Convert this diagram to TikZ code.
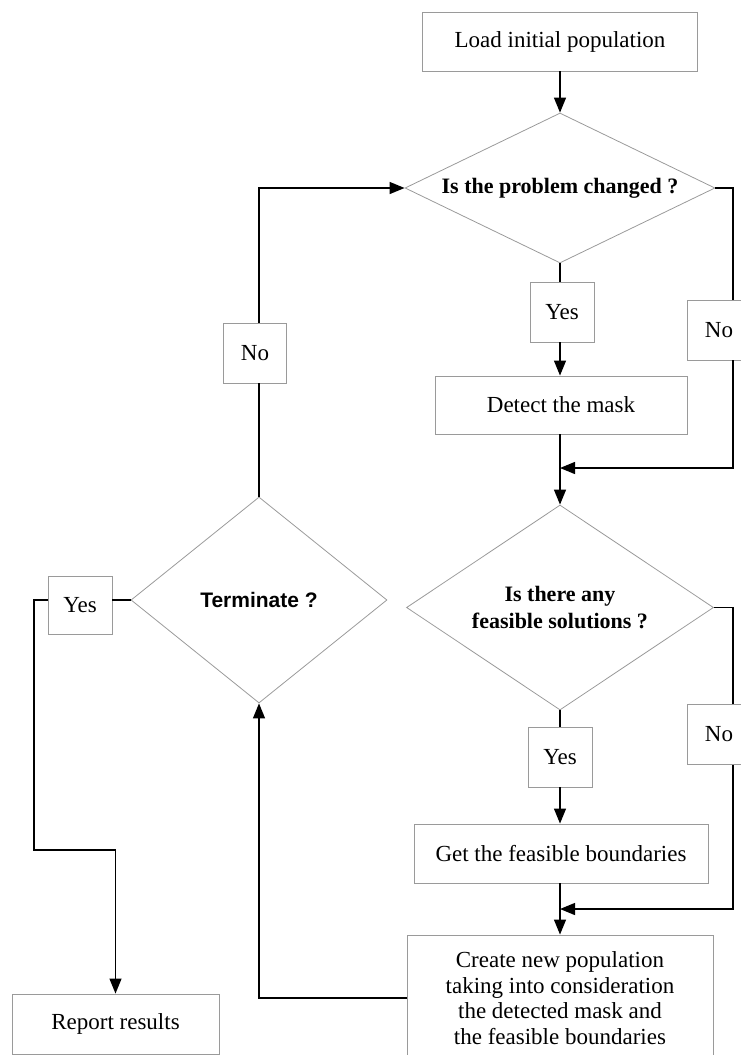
\documentclass[tikz,border=0pt]{standalone}
\usepackage{fontspec}
\setmainfont{Liberation Serif}
\newfontfamily\arialfont{Liberation Sans}
\usetikzlibrary{shapes.geometric,arrows.meta,calc}
\definecolor{boxgray}{HTML}{9A9A9A}
\begin{document}
\begin{tikzpicture}[x=1pt,y=-1pt,
  box/.style={draw=boxgray, line width=0.9pt, rectangle, inner sep=0pt, align=center,
    font=\fontsize{23}{25.5}\selectfont},
  dia/.style={draw=boxgray, line width=0.8pt, diamond, aspect=2, inner sep=0pt, align=center,
    font=\fontsize{22}{27}\selectfont\bfseries},
  conn/.style={line width=1.3pt, black},
  arr/.style={conn, -{Triangle[length=15pt,width=12pt]}}]
\useasboundingbox (0,0) rectangle (741,1055);

% nodes
\node[box, minimum width=275pt, minimum height=59pt] (load) at (560,41.5) {Load initial population};
\node[dia, minimum width=310pt, minimum height=150pt] (d1) at (560,188) {Is the problem changed ?};
\node[box, minimum width=64pt, minimum height=60pt] (yes1) at (562,312) {Yes};
\node[box, minimum width=64pt, minimum height=60pt] (no1) at (719,330) {No};
\node[box, minimum width=252pt, minimum height=58pt] (mask) at (561,405) {Detect the mask};
\node[dia, minimum width=307pt, minimum height=205pt] (d2) at (560,607.5) {Is there any\\feasible solutions ?};
\node[box, minimum width=64pt, minimum height=60pt] (yes2) at (560,757) {Yes};
\node[box, minimum width=64pt, minimum height=60pt] (no2) at (719,734.5) {No};
\node[box, minimum width=294pt, minimum height=59pt] (feas) at (561,853.5) {Get the feasible boundaries};
\node[box, minimum width=306pt, minimum height=126pt] (create) at (560,998)
  {Create new population\\taking into consideration\\the detected mask and\\the feasible boundaries};
\node[dia, minimum width=256pt, minimum height=206pt, font=\fontsize{21}{25}\selectfont\arialfont\bfseries] (term) at (259,600) {Terminate ?};
\node[box, minimum width=64pt, minimum height=58pt] (yesT) at (80,605) {Yes};
\node[box, minimum width=63pt, minimum height=60pt] (noL) at (255,353) {No};
\node[box, minimum width=207pt, minimum height=60pt] (report) at (115.5,1024) {Report results};

% helper coordinates
\coordinate (rr) at (733,0);
\coordinate (j1) at (560,468);
\coordinate (j2) at (560,909);
\coordinate (yl) at (34,850);

% connectors
\draw[arr] (load.south) -- (d1.north);
\draw[conn] (d1.south) -- (d1.south |- yes1.north);
\draw[arr] (d1.south |- yes1.south) -- (d1.south |- mask.north);
\draw[arr] (d1.south |- mask.south) -- (d2.north);
\draw[conn] (d1.east) -| (no1.north -| rr);
\draw[arr] (no1.south -| rr) |- (j1);

\draw[conn] (d2.south) -- (yes2.north);
\draw[arr] (yes2.south) -- (d2.south |- feas.north);
\draw[arr] (d2.south |- feas.south) -- (create.north);
\draw[conn] (d2.east) -| (no2.north -| rr);
\draw[arr] (no2.south -| rr) |- (j2);

\draw[conn] (term.north) -- (noL.south -| term.north);
\draw[arr] (noL.north -| term.north) |- (d1.west);
\draw[arr] (create.west) -| (term.south);
\draw[conn] (term.west) -- (term.west -| yesT.east);
\draw[arr] (term.west -| yesT.west) -| (yl) -| (report.north);
\end{tikzpicture}
\end{document}
